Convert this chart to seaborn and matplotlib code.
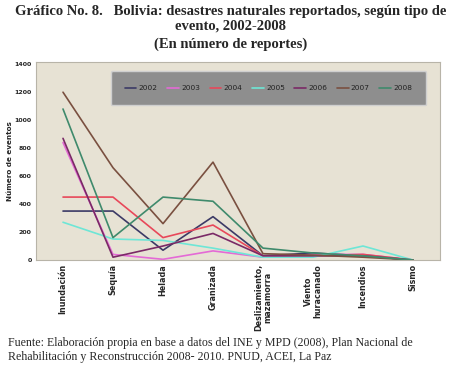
import matplotlib
matplotlib.use("Agg")
import matplotlib.pyplot as plt
import seaborn as sns
import pandas as pd

categories = ["Inundación", "Sequía", "Helada", "Granizada",
              "Deslizamiento,\nmazamorra", "Viento\nhuracanado", "Incendios", "Sismo"]
years = ["2002", "2003", "2004", "2005", "2006", "2007", "2008"]
v2002 = [350, 350, 70, 310, 30, 50, 30, 0]
v2003 = [840, 40, 5, 65, 20, 40, 40, 0]
v2004 = [450, 450, 160, 250, 30, 30, 40, 0]
v2005 = [270, 150, 140, 85, 20, 20, 100, 0]
v2006 = [870, 20, 100, 190, 30, 30, 30, 0]
v2007 = [1200, 660, 260, 700, 45, 35, 20, 0]
v2008 = [1080, 160, 450, 420, 85, 50, 30, 0]
yticks = [0, 200, 400, 600, 800, 1000, 1200, 1400]

series = dict(zip(years, [v2002, v2003, v2004, v2005, v2006, v2007, v2008]))
rows = []
for yr, vals in series.items():
    for i, v in enumerate(vals):
        rows.append({"idx": i, "valor": v, "año": yr})
df = pd.DataFrame(rows)

palette = {"2002": "#3c3a66", "2003": "#e46ad6", "2004": "#e8485a",
           "2005": "#6ee6d6", "2006": "#7a2a66", "2007": "#7a5040",
           "2008": "#3f8a6c"}

sns.set_theme(style="white")
fig = plt.figure(figsize=(4.57, 3.66), dpi=100)
fig.patch.set_facecolor("white")
ax = fig.add_axes([36/457, 1-260/366, (440-36)/457, (260-62)/366])
ax.set_facecolor("#e7e2d4")

sns.lineplot(data=df, x="idx", y="valor", hue="año", palette=palette,
             sort=False, linewidth=1.2, ax=ax, legend=True)

ax.set_xlim(-0.54, len(categories) - 0.46)
ax.set_ylim(0, 1416)
ax.set_yticks(yticks)
ax.set_yticklabels([str(t) for t in yticks], fontsize=4.5, fontweight="bold",
                   family="DejaVu Sans")
ax.set_xticks(range(len(categories)))
ax.set_xticklabels(categories, rotation=90, fontsize=5.8, fontweight="bold",
                   va="top", ha="center", linespacing=1.0)
ax.tick_params(axis="both", length=0, pad=3)
ax.set_xlabel("")
ax.set_ylabel("Número de eventos", fontsize=5.2, fontweight="bold")
ax.yaxis.set_label_coords(-0.058, 0.5)
for s in ax.spines.values():
    s.set_color("#b8b4a8")
    s.set_linewidth(0.8)

handles, labels = ax.get_legend_handles_labels()
ax.legend(handles, labels, ncol=7, loc="upper left",
          bbox_to_anchor=(71/404, 0.972, 323/404, 0.0), mode="expand",
          fontsize=5.3, frameon=True, facecolor="#8e8e8e", edgecolor="#cfcfcf",
          framealpha=1.0, handlelength=1.6, handletextpad=0.3,
          borderpad=1.9, columnspacing=0.6, labelcolor="#222222")

fig.text(0.505, 1-11/366, "Gráfico No. 8.   Bolivia: desastres naturales reportados, según tipo de",
         ha="center", va="center", fontsize=10.5, fontweight="bold", family="Liberation Serif")
fig.text(0.505, 1-26.5/366, "evento, 2002-2008", ha="center", va="center",
         fontsize=10.5, fontweight="bold", family="Liberation Serif")
fig.text(0.505, 1-44/366, "(En número de reportes)", ha="center", va="center",
         fontsize=10.5, fontweight="bold", family="Liberation Serif")
fig.text(8/457, 1-343/366, "Fuente: Elaboración propia en base a datos del INE y MPD (2008), Plan Nacional de",
         ha="left", va="center", fontsize=8.6, family="Liberation Serif")
fig.text(8/457, 1-357/366, "Rehabilitación y Reconstrucción 2008- 2010. PNUD, ACEI, La Paz",
         ha="left", va="center", fontsize=8.6, family="Liberation Serif")

fig.savefig("out.png", dpi=100)
